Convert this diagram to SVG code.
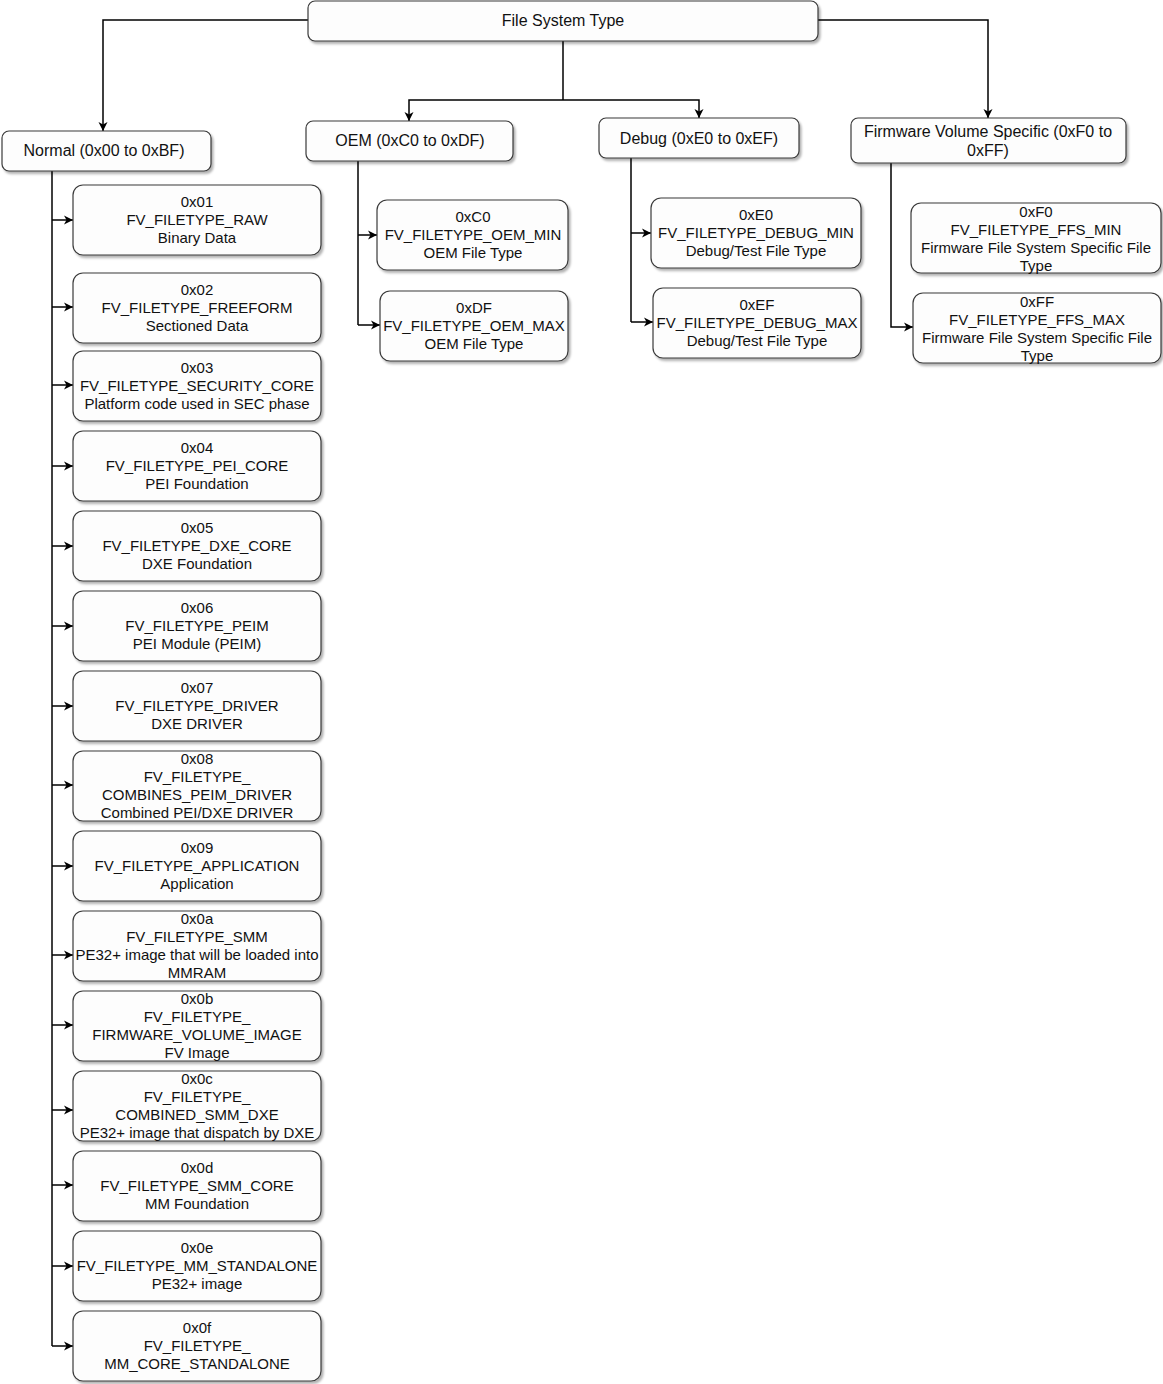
<svg xmlns="http://www.w3.org/2000/svg" width="1163" height="1384" viewBox="0 0 1163 1384">
<defs>
<style>
.box{fill:#fdfdfd;stroke:#3a3a3a;stroke-width:1.2;filter:url(#sh)}
.t{font-family:"Liberation Sans",Arial,sans-serif;font-size:15px;fill:#111;text-anchor:middle}
.h{font-size:16px}
.c{fill:none;stroke:#000;stroke-width:1.5;marker-end:url(#ah)}
.l{fill:none;stroke:#000;stroke-width:1.5}
</style>
<filter id="sh" x="-5%" y="-10%" width="115%" height="130%">
<feDropShadow dx="2" dy="2.5" stdDeviation="1" flood-color="#000" flood-opacity="0.3"/>
</filter>
<marker id="ah" markerUnits="userSpaceOnUse" markerWidth="12" markerHeight="12" viewBox="0 0 12 12" refX="10" refY="6" orient="auto">
<path d="M1,1.5 L10,6 L1,10.5 L3.5,6 Z" fill="#000"/>
</marker>
</defs>
<rect width="1163" height="1384" fill="#fff"/>

<g id="connectors">
<path class="c" d="M308,20 H103 V131"/>
<path class="l" d="M563,41 V100"/>
<path class="c" d="M563,100 H409 V121"/>
<path class="c" d="M563,100 H699 V118"/>
<path class="c" d="M818,20 H988 V118"/>
<path class="l" d="M52,171 V1346"/>
<path class="c" d="M52,220 H73"/>
<path class="c" d="M52,307 H73"/>
<path class="c" d="M52,385 H73"/>
<path class="c" d="M52,466 H73"/>
<path class="c" d="M52,546 H73"/>
<path class="c" d="M52,626 H73"/>
<path class="c" d="M52,706 H73"/>
<path class="c" d="M52,785 H73"/>
<path class="c" d="M52,866 H73"/>
<path class="c" d="M52,955 H73"/>
<path class="c" d="M52,1025 H73"/>
<path class="c" d="M52,1110 H73"/>
<path class="c" d="M52,1185 H73"/>
<path class="c" d="M52,1266 H73"/>
<path class="c" d="M52,1346 H73"/>
<path class="l" d="M358,161 V325"/>
<path class="c" d="M358,235 H377"/>
<path class="c" d="M358,325 H380"/>
<path class="l" d="M631,158 V322"/>
<path class="c" d="M631,233 H651"/>
<path class="c" d="M631,322 H653"/>
<path class="c" d="M891,163 V327 H913"/>
</g>

<g id="fst"><rect class="box" x="308" y="1" width="510" height="40" rx="7"/><text class="t h" x="563" y="26">File System Type</text></g>
<g id="normal"><rect class="box" x="2" y="131" width="209" height="40" rx="7"/><text class="t h" x="104" y="156">Normal (0x00 to 0xBF)</text></g>
<g id="oem"><rect class="box" x="306" y="121" width="207" height="40" rx="7"/><text class="t h" x="410" y="146">OEM (0xC0 to 0xDF)</text></g>
<g id="debug"><rect class="box" x="599" y="118" width="200" height="40" rx="7"/><text class="t h" x="699" y="144">Debug (0xE0 to 0xEF)</text></g>
<g id="fvs"><rect class="box" x="851" y="118" width="275" height="45" rx="7"/><text class="t h" x="988" y="137">Firmware Volume Specific (0xF0 to</text><text class="t h" x="988" y="156">0xFF)</text></g>

<g id="n01"><rect class="box" x="73" y="185" width="248" height="70" rx="10"/><text class="t" x="197" y="207">0x01</text><text class="t" x="197" y="225">FV_FILETYPE_RAW</text><text class="t" x="197" y="243">Binary Data</text></g>
<g id="n02"><rect class="box" x="73" y="273" width="248" height="70" rx="10"/><text class="t" x="197" y="295">0x02</text><text class="t" x="197" y="313">FV_FILETYPE_FREEFORM</text><text class="t" x="197" y="331">Sectioned Data</text></g>
<g id="n03"><rect class="box" x="73" y="351" width="248" height="70" rx="10"/><text class="t" x="197" y="373">0x03</text><text class="t" x="197" y="391">FV_FILETYPE_SECURITY_CORE</text><text class="t" x="197" y="409">Platform code used in SEC phase</text></g>
<g id="n04"><rect class="box" x="73" y="431" width="248" height="70" rx="10"/><text class="t" x="197" y="453">0x04</text><text class="t" x="197" y="471">FV_FILETYPE_PEI_CORE</text><text class="t" x="197" y="489">PEI Foundation</text></g>
<g id="n05"><rect class="box" x="73" y="511" width="248" height="70" rx="10"/><text class="t" x="197" y="533">0x05</text><text class="t" x="197" y="551">FV_FILETYPE_DXE_CORE</text><text class="t" x="197" y="569">DXE Foundation</text></g>
<g id="n06"><rect class="box" x="73" y="591" width="248" height="70" rx="10"/><text class="t" x="197" y="613">0x06</text><text class="t" x="197" y="631">FV_FILETYPE_PEIM</text><text class="t" x="197" y="649">PEI Module (PEIM)</text></g>
<g id="n07"><rect class="box" x="73" y="671" width="248" height="70" rx="10"/><text class="t" x="197" y="693">0x07</text><text class="t" x="197" y="711">FV_FILETYPE_DRIVER</text><text class="t" x="197" y="729">DXE DRIVER</text></g>
<g id="n08"><rect class="box" x="73" y="751" width="248" height="70" rx="10"/><text class="t" x="197" y="764">0x08</text><text class="t" x="197" y="782">FV_FILETYPE_</text><text class="t" x="197" y="800">COMBINES_PEIM_DRIVER</text><text class="t" x="197" y="818">Combined PEI/DXE DRIVER</text></g>
<g id="n09"><rect class="box" x="73" y="831" width="248" height="70" rx="10"/><text class="t" x="197" y="853">0x09</text><text class="t" x="197" y="871">FV_FILETYPE_APPLICATION</text><text class="t" x="197" y="889">Application</text></g>
<g id="n0a"><rect class="box" x="73" y="911" width="248" height="70" rx="10"/><text class="t" x="197" y="924">0x0a</text><text class="t" x="197" y="942">FV_FILETYPE_SMM</text><text class="t" x="197" y="960">PE32+ image that will be loaded into</text><text class="t" x="197" y="978">MMRAM</text></g>
<g id="n0b"><rect class="box" x="73" y="991" width="248" height="70" rx="10"/><text class="t" x="197" y="1004">0x0b</text><text class="t" x="197" y="1022">FV_FILETYPE_</text><text class="t" x="197" y="1040">FIRMWARE_VOLUME_IMAGE</text><text class="t" x="197" y="1058">FV Image</text></g>
<g id="n0c"><rect class="box" x="73" y="1071" width="248" height="70" rx="10"/><text class="t" x="197" y="1084">0x0c</text><text class="t" x="197" y="1102">FV_FILETYPE_</text><text class="t" x="197" y="1120">COMBINED_SMM_DXE</text><text class="t" x="197" y="1138">PE32+ image that dispatch by DXE</text></g>
<g id="n0d"><rect class="box" x="73" y="1151" width="248" height="70" rx="10"/><text class="t" x="197" y="1173">0x0d</text><text class="t" x="197" y="1191">FV_FILETYPE_SMM_CORE</text><text class="t" x="197" y="1209">MM Foundation</text></g>
<g id="n0e"><rect class="box" x="73" y="1231" width="248" height="70" rx="10"/><text class="t" x="197" y="1253">0x0e</text><text class="t" x="197" y="1271">FV_FILETYPE_MM_STANDALONE</text><text class="t" x="197" y="1289">PE32+ image</text></g>
<g id="n0f"><rect class="box" x="73" y="1311" width="248" height="70" rx="10"/><text class="t" x="197" y="1333">0x0f</text><text class="t" x="197" y="1351">FV_FILETYPE_</text><text class="t" x="197" y="1369">MM_CORE_STANDALONE</text></g>

<g id="nC0"><rect class="box" x="377" y="200" width="191" height="70" rx="10"/><text class="t" x="473" y="222">0xC0</text><text class="t" x="473" y="240">FV_FILETYPE_OEM_MIN</text><text class="t" x="473" y="258">OEM File Type</text></g>
<g id="nDF"><rect class="box" x="380" y="291" width="188" height="70" rx="10"/><text class="t" x="474" y="313">0xDF</text><text class="t" x="474" y="331">FV_FILETYPE_OEM_MAX</text><text class="t" x="474" y="349">OEM File Type</text></g>
<g id="nE0"><rect class="box" x="651" y="198" width="210" height="70" rx="10"/><text class="t" x="756" y="220">0xE0</text><text class="t" x="756" y="238">FV_FILETYPE_DEBUG_MIN</text><text class="t" x="756" y="256">Debug/Test File Type</text></g>
<g id="nEF"><rect class="box" x="653" y="288" width="208" height="70" rx="10"/><text class="t" x="757" y="310">0xEF</text><text class="t" x="757" y="328">FV_FILETYPE_DEBUG_MAX</text><text class="t" x="757" y="346">Debug/Test File Type</text></g>
<g id="nF0"><rect class="box" x="911" y="203" width="250" height="70" rx="10"/><text class="t" x="1036" y="217">0xF0</text><text class="t" x="1036" y="235">FV_FILETYPE_FFS_MIN</text><text class="t" x="1036" y="253">Firmware File System Specific File</text><text class="t" x="1036" y="271">Type</text></g>
<g id="nFF"><rect class="box" x="913" y="293" width="248" height="70" rx="10"/><text class="t" x="1037" y="307">0xFF</text><text class="t" x="1037" y="325">FV_FILETYPE_FFS_MAX</text><text class="t" x="1037" y="343">Firmware File System Specific File</text><text class="t" x="1037" y="361">Type</text></g>
</svg>
